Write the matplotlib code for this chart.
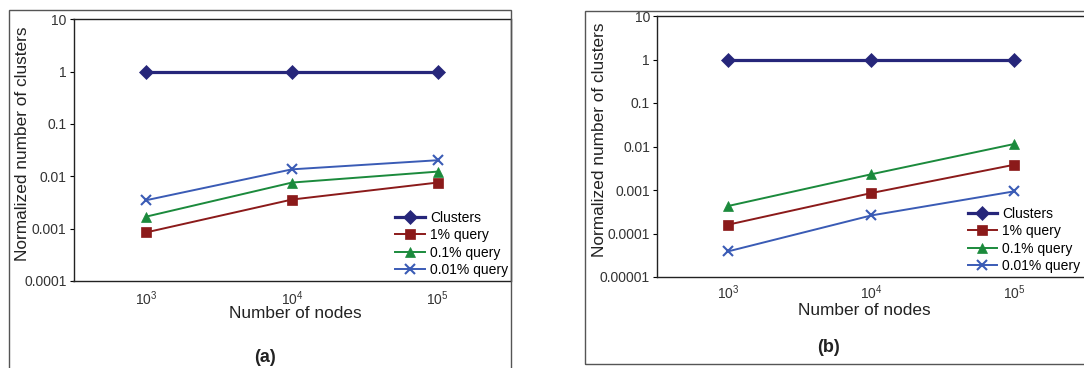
import matplotlib
matplotlib.use('Agg')
import matplotlib.pyplot as plt
from matplotlib.patches import Rectangle

plt.rcParams['font.family'] = ['Liberation Sans', 'DejaVu Sans']
plt.rcParams['mathtext.fontset'] = 'custom'
plt.rcParams['mathtext.rm'] = 'Liberation Sans'
plt.rcParams['mathtext.it'] = 'Liberation Sans'

# ---- data ----
nodes = ['$10^3$', '$10^4$', '$10^5$']
series_names = ['Clusters', '1% query', '0.1% query', '0.01% query']

# (a)
a_clusters = [1.0, 1.0, 1.0]
a_q1 = [0.00085, 0.0036, 0.0076]
a_q01 = [0.0017, 0.0076, 0.0123]
a_q001 = [0.0035, 0.0136, 0.0203]

# (b)
b_clusters = [1.0, 1.0, 1.0]
b_q1 = [0.00016, 0.00085, 0.0038]
b_q01 = [0.00043, 0.0023, 0.0114]
b_q001 = [0.000039, 0.00026, 0.00093]

a_yticks = [0.0001, 0.001, 0.01, 0.1, 1, 10]
a_ylabels = ['0.0001', '0.001', '0.01', '0.1', '1', '10']
b_yticks = [0.00001, 0.0001, 0.001, 0.01, 0.1, 1, 10]
b_ylabels = ['0.00001', '0.0001', '0.001', '0.01', '0.1', '1', '10']

colors = ['#26267a', '#8b1a1a', '#1b8a3c', '#3a5bb5']
markers = ['D', 's', '^', 'x']
msizes = [7, 7, 7.5, 7.5]
lws = [2.3, 1.4, 1.4, 1.4]


def draw_panel(ax, ys, yticks, ylabels, leg_anchor, xlab_pos, ylab_pos, xpad):
    x = range(len(nodes))
    for i, y in enumerate(ys):
        ax.plot(x, y, color=colors[i], marker=markers[i], markersize=msizes[i],
                lw=lws[i], markeredgewidth=1.5 if markers[i] == 'x' else 0.5,
                label=series_names[i])
    ax.set_yscale('log')
    ax.set_ylim(yticks[0], yticks[-1])
    ax.set_xlim(-0.5, 2.5)
    ax.set_yticks(yticks)
    ax.set_yticklabels(ylabels)
    ax.minorticks_off()
    ax.set_xticks(list(x))
    ax.set_xticklabels(nodes)
    ax.tick_params(axis='x', length=0, pad=xpad, labelsize=10, colors='#333333')
    ax.tick_params(axis='y', length=3, width=0.8, pad=2, labelsize=10,
                   labelcolor='#333333')
    for s in ax.spines.values():
        s.set_linewidth(1.0)
        s.set_color('#222222')
    ax.set_xlabel('Number of nodes', fontsize=12.4, color='#222222')
    ax.set_ylabel('Normalized number of clusters', fontsize=12.4, color='#222222')
    ax.xaxis.set_label_coords(*xlab_pos)
    ax.xaxis.label.set_va('center')
    ax.yaxis.set_label_coords(*ylab_pos)
    ax.yaxis.label.set_va('center')
    ax.legend(loc='lower right', bbox_to_anchor=leg_anchor, frameon=False,
              fontsize=10, labelspacing=0.25, handlelength=2.1,
              handletextpad=0.4, borderpad=0, borderaxespad=0)


fig = plt.figure(figsize=(10.84, 3.68), dpi=100)

# outer frames
fig.patches.append(Rectangle((9.3 / 1084, -0.02), 501.7 / 1084, 1 - 10 / 368 + 0.02,
                             transform=fig.transFigure,
                             fill=False, edgecolor='#555555', lw=1.0))
fig.patches.append(Rectangle((585 / 1084, 4 / 368), 0.48, 1 - 15 / 368,
                             transform=fig.transFigure,
                             fill=False, edgecolor='#555555', lw=1.0))

ax1 = fig.add_axes([73.5 / 1084, 1 - 281 / 368, 437 / 1084, 261.7 / 368])
draw_panel(ax1, [a_clusters, a_q1, a_q01, a_q001], a_yticks, a_ylabels,
           (0.995, 0.015), (0.507, -0.124), (-0.117, 0.525), 6)

ax2 = fig.add_axes([657 / 1084, 1 - 277 / 368, 428.5 / 1084, 261 / 368])
draw_panel(ax2, [b_clusters, b_q1, b_q01, b_q001], b_yticks, b_ylabels,
           (0.988, 0.015), (0.483, -0.127), (-0.135, 0.527), 4.5)

fig.text(265 / 1084, 1 - 357 / 368, '(a)', fontsize=13, fontweight='bold',
         ha='center', va='center', color='#222222')
fig.text(828 / 1084, 1 - 348 / 368, '(b)', fontsize=13, fontweight='bold',
         ha='center', va='center', color='#222222')

fig.savefig('out.png', dpi=100)
